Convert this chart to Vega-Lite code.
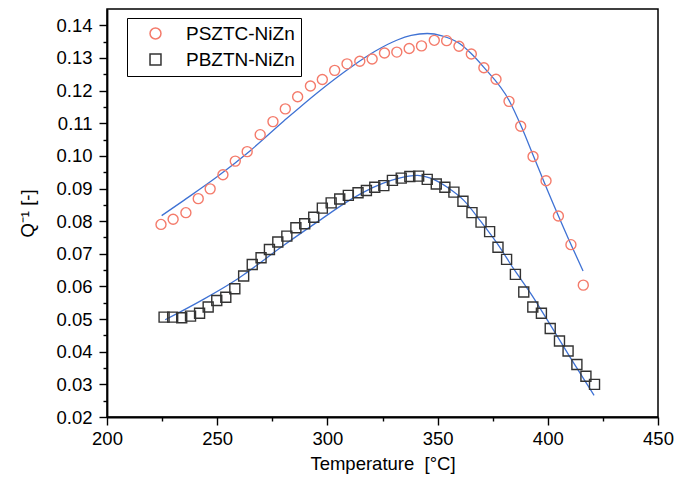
{
  "$schema": "https://vega.github.io/schema/vega-lite/v6.json",
  "width": 551,
  "height": 408,
  "autosize": {"type": "none"},
  "padding": {"left": 107, "top": 9, "right": 16, "bottom": 62},
  "background": "white",
  "config": {
    "view": {"stroke": "black", "strokeWidth": 1.5},
    "font": "Liberation Sans"
  },
  "datasets": {
    "pts": [
      {"s": "PSZTC-NiZn", "T": 224.5, "Q": 0.0790},
      {"s": "PSZTC-NiZn", "T": 230.0, "Q": 0.0806},
      {"s": "PSZTC-NiZn", "T": 235.8, "Q": 0.0826},
      {"s": "PSZTC-NiZn", "T": 241.4, "Q": 0.0869},
      {"s": "PSZTC-NiZn", "T": 246.8, "Q": 0.0899},
      {"s": "PSZTC-NiZn", "T": 252.6, "Q": 0.0942},
      {"s": "PSZTC-NiZn", "T": 258.2, "Q": 0.0984},
      {"s": "PSZTC-NiZn", "T": 263.6, "Q": 0.1013},
      {"s": "PSZTC-NiZn", "T": 269.5, "Q": 0.1065},
      {"s": "PSZTC-NiZn", "T": 275.3, "Q": 0.1105},
      {"s": "PSZTC-NiZn", "T": 280.9, "Q": 0.1144},
      {"s": "PSZTC-NiZn", "T": 286.5, "Q": 0.1181},
      {"s": "PSZTC-NiZn", "T": 292.3, "Q": 0.1214},
      {"s": "PSZTC-NiZn", "T": 297.7, "Q": 0.1234},
      {"s": "PSZTC-NiZn", "T": 303.3, "Q": 0.1262},
      {"s": "PSZTC-NiZn", "T": 308.9, "Q": 0.1282},
      {"s": "PSZTC-NiZn", "T": 314.7, "Q": 0.1290},
      {"s": "PSZTC-NiZn", "T": 320.3, "Q": 0.1297},
      {"s": "PSZTC-NiZn", "T": 325.9, "Q": 0.1315},
      {"s": "PSZTC-NiZn", "T": 331.5, "Q": 0.1318},
      {"s": "PSZTC-NiZn", "T": 337.1, "Q": 0.1329},
      {"s": "PSZTC-NiZn", "T": 342.7, "Q": 0.1337},
      {"s": "PSZTC-NiZn", "T": 348.5, "Q": 0.1354},
      {"s": "PSZTC-NiZn", "T": 354.1, "Q": 0.1353},
      {"s": "PSZTC-NiZn", "T": 359.7, "Q": 0.1336},
      {"s": "PSZTC-NiZn", "T": 365.3, "Q": 0.1312},
      {"s": "PSZTC-NiZn", "T": 371.0, "Q": 0.1270},
      {"s": "PSZTC-NiZn", "T": 376.5, "Q": 0.1235},
      {"s": "PSZTC-NiZn", "T": 382.4, "Q": 0.1167},
      {"s": "PSZTC-NiZn", "T": 387.7, "Q": 0.1091},
      {"s": "PSZTC-NiZn", "T": 393.3, "Q": 0.0998},
      {"s": "PSZTC-NiZn", "T": 399.2, "Q": 0.0924},
      {"s": "PSZTC-NiZn", "T": 404.8, "Q": 0.0816},
      {"s": "PSZTC-NiZn", "T": 410.5, "Q": 0.0728},
      {"s": "PSZTC-NiZn", "T": 416.1, "Q": 0.0604},
      {"s": "PBZTN-NiZn", "T": 225.9, "Q": 0.0506},
      {"s": "PBZTN-NiZn", "T": 229.8, "Q": 0.0506},
      {"s": "PBZTN-NiZn", "T": 233.9, "Q": 0.0504},
      {"s": "PBZTN-NiZn", "T": 237.9, "Q": 0.0509},
      {"s": "PBZTN-NiZn", "T": 242.0, "Q": 0.0518},
      {"s": "PBZTN-NiZn", "T": 245.9, "Q": 0.0537},
      {"s": "PBZTN-NiZn", "T": 249.8, "Q": 0.0557},
      {"s": "PBZTN-NiZn", "T": 253.9, "Q": 0.0567},
      {"s": "PBZTN-NiZn", "T": 258.0, "Q": 0.0593},
      {"s": "PBZTN-NiZn", "T": 262.0, "Q": 0.0632},
      {"s": "PBZTN-NiZn", "T": 265.9, "Q": 0.0667},
      {"s": "PBZTN-NiZn", "T": 269.9, "Q": 0.0688},
      {"s": "PBZTN-NiZn", "T": 273.7, "Q": 0.0713},
      {"s": "PBZTN-NiZn", "T": 277.5, "Q": 0.0736},
      {"s": "PBZTN-NiZn", "T": 281.6, "Q": 0.0754},
      {"s": "PBZTN-NiZn", "T": 285.7, "Q": 0.0780},
      {"s": "PBZTN-NiZn", "T": 289.7, "Q": 0.0792},
      {"s": "PBZTN-NiZn", "T": 293.8, "Q": 0.0812},
      {"s": "PBZTN-NiZn", "T": 297.7, "Q": 0.0840},
      {"s": "PBZTN-NiZn", "T": 301.7, "Q": 0.0856},
      {"s": "PBZTN-NiZn", "T": 305.6, "Q": 0.0868},
      {"s": "PBZTN-NiZn", "T": 309.5, "Q": 0.0879},
      {"s": "PBZTN-NiZn", "T": 313.9, "Q": 0.0887},
      {"s": "PBZTN-NiZn", "T": 317.7, "Q": 0.0894},
      {"s": "PBZTN-NiZn", "T": 321.5, "Q": 0.0904},
      {"s": "PBZTN-NiZn", "T": 325.6, "Q": 0.0909},
      {"s": "PBZTN-NiZn", "T": 329.5, "Q": 0.0925},
      {"s": "PBZTN-NiZn", "T": 333.5, "Q": 0.0932},
      {"s": "PBZTN-NiZn", "T": 337.4, "Q": 0.0937},
      {"s": "PBZTN-NiZn", "T": 341.4, "Q": 0.0938},
      {"s": "PBZTN-NiZn", "T": 345.3, "Q": 0.0928},
      {"s": "PBZTN-NiZn", "T": 349.4, "Q": 0.0914},
      {"s": "PBZTN-NiZn", "T": 353.3, "Q": 0.0904},
      {"s": "PBZTN-NiZn", "T": 357.4, "Q": 0.0889},
      {"s": "PBZTN-NiZn", "T": 361.5, "Q": 0.0861},
      {"s": "PBZTN-NiZn", "T": 365.6, "Q": 0.0826},
      {"s": "PBZTN-NiZn", "T": 369.7, "Q": 0.0797},
      {"s": "PBZTN-NiZn", "T": 373.6, "Q": 0.0768},
      {"s": "PBZTN-NiZn", "T": 377.4, "Q": 0.0720},
      {"s": "PBZTN-NiZn", "T": 381.3, "Q": 0.0683},
      {"s": "PBZTN-NiZn", "T": 385.3, "Q": 0.0637},
      {"s": "PBZTN-NiZn", "T": 389.1, "Q": 0.0583},
      {"s": "PBZTN-NiZn", "T": 393.2, "Q": 0.0537},
      {"s": "PBZTN-NiZn", "T": 397.1, "Q": 0.0518},
      {"s": "PBZTN-NiZn", "T": 401.1, "Q": 0.0471},
      {"s": "PBZTN-NiZn", "T": 405.3, "Q": 0.0433},
      {"s": "PBZTN-NiZn", "T": 409.2, "Q": 0.0402},
      {"s": "PBZTN-NiZn", "T": 413.2, "Q": 0.0361},
      {"s": "PBZTN-NiZn", "T": 417.3, "Q": 0.0325},
      {"s": "PBZTN-NiZn", "T": 421.2, "Q": 0.0300}
    ],
    "fit": [
      {"s": "PSZTC-NiZn", "T": 224.8, "Q": 0.0817},
      {"s": "PSZTC-NiZn", "T": 234.7, "Q": 0.0863},
      {"s": "PSZTC-NiZn", "T": 249.8, "Q": 0.0935},
      {"s": "PSZTC-NiZn", "T": 265.0, "Q": 0.1016},
      {"s": "PSZTC-NiZn", "T": 280.1, "Q": 0.1106},
      {"s": "PSZTC-NiZn", "T": 295.3, "Q": 0.1193},
      {"s": "PSZTC-NiZn", "T": 310.5, "Q": 0.1271},
      {"s": "PSZTC-NiZn", "T": 322.0, "Q": 0.1322},
      {"s": "PSZTC-NiZn", "T": 331.7, "Q": 0.1355},
      {"s": "PSZTC-NiZn", "T": 338.0, "Q": 0.1369},
      {"s": "PSZTC-NiZn", "T": 345.3, "Q": 0.1375},
      {"s": "PSZTC-NiZn", "T": 352.0, "Q": 0.1368},
      {"s": "PSZTC-NiZn", "T": 359.8, "Q": 0.1345},
      {"s": "PSZTC-NiZn", "T": 365.0, "Q": 0.1315},
      {"s": "PSZTC-NiZn", "T": 371.0, "Q": 0.1271},
      {"s": "PSZTC-NiZn", "T": 382.5, "Q": 0.1169},
      {"s": "PSZTC-NiZn", "T": 387.8, "Q": 0.1093},
      {"s": "PSZTC-NiZn", "T": 393.4, "Q": 0.1001},
      {"s": "PSZTC-NiZn", "T": 399.9, "Q": 0.0894},
      {"s": "PSZTC-NiZn", "T": 409.7, "Q": 0.0741},
      {"s": "PSZTC-NiZn", "T": 416.0, "Q": 0.0647},
      {"s": "PBZTN-NiZn", "T": 226.4, "Q": 0.0498},
      {"s": "PBZTN-NiZn", "T": 242.3, "Q": 0.0555},
      {"s": "PBZTN-NiZn", "T": 257.4, "Q": 0.0615},
      {"s": "PBZTN-NiZn", "T": 262.0, "Q": 0.0636},
      {"s": "PBZTN-NiZn", "T": 280.2, "Q": 0.0726},
      {"s": "PBZTN-NiZn", "T": 295.3, "Q": 0.0797},
      {"s": "PBZTN-NiZn", "T": 310.5, "Q": 0.0866},
      {"s": "PBZTN-NiZn", "T": 316.5, "Q": 0.0889},
      {"s": "PBZTN-NiZn", "T": 331.7, "Q": 0.0930},
      {"s": "PBZTN-NiZn", "T": 340.8, "Q": 0.0940},
      {"s": "PBZTN-NiZn", "T": 346.8, "Q": 0.0932},
      {"s": "PBZTN-NiZn", "T": 354.4, "Q": 0.0904},
      {"s": "PBZTN-NiZn", "T": 362.0, "Q": 0.0863},
      {"s": "PBZTN-NiZn", "T": 369.5, "Q": 0.0800},
      {"s": "PBZTN-NiZn", "T": 377.1, "Q": 0.0731},
      {"s": "PBZTN-NiZn", "T": 384.7, "Q": 0.0652},
      {"s": "PBZTN-NiZn", "T": 392.3, "Q": 0.0578},
      {"s": "PBZTN-NiZn", "T": 399.9, "Q": 0.0496},
      {"s": "PBZTN-NiZn", "T": 410.5, "Q": 0.0379},
      {"s": "PBZTN-NiZn", "T": 421.0, "Q": 0.0266}
    ]
  },
  "encoding": {
    "x": {
      "field": "T",
      "type": "quantitative",
      "scale": {"domain": [200, 450], "nice": false, "zero": false},
      "axis": {
        "values": [200, 225, 250, 275, 300, 325, 350, 375, 400, 425, 450],
        "labelExpr": "datum.value % 50 == 0 ? datum.label : ''",
        "labelOverlap": false,
        "grid": false,
        "domainColor": "black",
        "domainWidth": 1.8,
        "tickColor": "black",
        "tickWidth": 1.4,
        "tickSize": {"condition": {"test": "datum.value % 50 == 0", "value": 8}, "value": 4},
        "labelFont": "Liberation Sans",
        "labelFontSize": 18.5,
        "labelColor": "black",
        "labelPadding": 4,
        "labelFlush": false,
        "title": "Temperature\u00a0\u00a0[°C]",
        "titleFont": "Liberation Sans",
        "titleFontSize": 18.5,
        "titleFontWeight": "normal",
        "titleColor": "black",
        "titlePadding": 7
      }
    },
    "y": {
      "field": "Q",
      "type": "quantitative",
      "scale": {"domain": [0.02, 0.145], "nice": false, "zero": false},
      "axis": {
        "values": [0.02, 0.025, 0.03, 0.035, 0.04, 0.045, 0.05, 0.055, 0.06, 0.065, 0.07, 0.075, 0.08, 0.085, 0.09, 0.095, 0.1, 0.105, 0.11, 0.115, 0.12, 0.125, 0.13, 0.135, 0.14],
        "labelExpr": "abs(datum.value*100 - round(datum.value*100)) < 0.01 ? format(datum.value, '.2f') : ''",
        "labelOverlap": false,
        "grid": false,
        "domainColor": "black",
        "domainWidth": 1.8,
        "tickColor": "black",
        "tickWidth": 1.4,
        "tickSize": {"condition": {"test": "abs(datum.value*100 - round(datum.value*100)) < 0.01", "value": 8}, "value": 4},
        "labelFont": "Liberation Sans",
        "labelFontSize": 18.5,
        "labelColor": "black",
        "labelPadding": 7,
        "labelFlush": false,
        "title": "Q⁻¹ [-]",
        "titleFont": "Liberation Sans",
        "titleFontSize": 18.5,
        "titleFontWeight": "normal",
        "titleColor": "black",
        "titlePadding": 18
      }
    }
  },
  "layer": [
    {
      "data": {"name": "fit"},
      "mark": {"type": "line", "color": "#3f72d4", "strokeWidth": 1.3, "interpolate": "monotone"},
      "encoding": {
        "detail": {"field": "s"}
      }
    },
    {
      "data": {"name": "pts"},
      "mark": {"type": "point", "filled": false, "strokeWidth": 1.4, "opacity": 1},
      "encoding": {
        "color": {
          "field": "s",
          "type": "nominal",
          "scale": {"domain": ["PSZTC-NiZn", "PBZTN-NiZn"], "range": ["#f47b6b", "#333333"]},
          "legend": {
            "title": null,
            "orient": "none",
            "legendX": 20,
            "legendY": 9,
            "strokeColor": "black",
            "fillColor": "white",
            "padding": 6,
            "symbolSize": 120,
            "symbolStrokeWidth": 1.5,
            "symbolOffset": 13,
            "labelOffset": 21,
            "rowPadding": 6,
            "labelFont": "Liberation Sans",
            "labelFontSize": 19,
            "labelColor": "black"
          }
        },
        "shape": {
          "field": "s",
          "type": "nominal",
          "scale": {"domain": ["PSZTC-NiZn", "PBZTN-NiZn"], "range": ["circle", "square"]},
          "legend": null
        },
        "size": {"value": 100}
      }
    }
  ]
}
